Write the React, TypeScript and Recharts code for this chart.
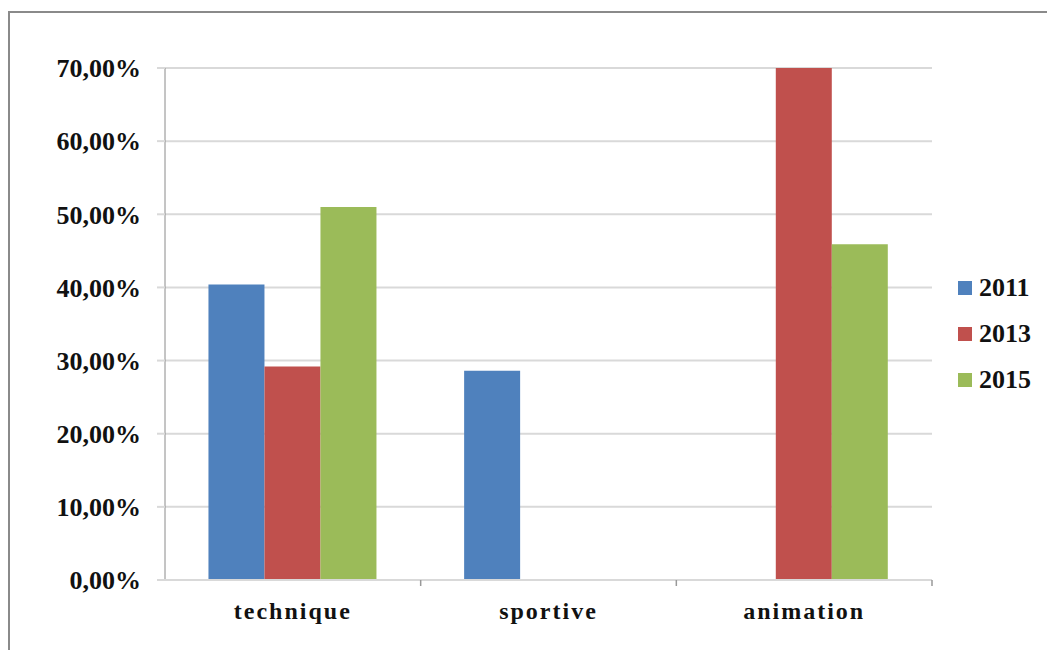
import React from 'react'
import {
  BarChart,
  Bar,
  XAxis,
  YAxis,
  CartesianGrid,
} from 'recharts'

const categories = ['technique', 'sportive', 'animation']
const values2011 = [40.4, 28.6, 0]
const values2013 = [29.2, 0, 70.0]
const values2015 = [51.0, 0, 45.9]
const yTicks = [0, 10, 20, 30, 40, 50, 60, 70]

const series = [
  { key: 'y2011', name: '2011', color: '#4f81bd' },
  { key: 'y2013', name: '2013', color: '#c0504d' },
  { key: 'y2015', name: '2015', color: '#9bbb59' },
]

const data = categories.map((name, i) => ({
  name,
  y2011: values2011[i],
  y2013: values2013[i],
  y2015: values2015[i],
}))

const font = '"Liberation Serif", "Times New Roman", serif'

const formatPct = (v: number) => v.toFixed(2).replace('.', ',') + '%'

// category label in the middle, small tick mark at the right edge of the band
const CategoryTick = (props: any) => {
  const { x, y, payload } = props
  const half = payload && payload.offset ? payload.offset : 767 / 6
  return (
    <g>
      <line x1={x + half} y1={y - 8} x2={x + half} y2={y - 2} stroke="#999" strokeWidth={1.5} />
      <text
        x={x}
        y={y + 31}
        textAnchor="middle"
        fontFamily={font}
        fontWeight="bold"
        fontSize={24}
        letterSpacing={2}
        fill="#111"
      >
        {payload.value}
      </text>
    </g>
  )
}

const LegendBox = () => (
  <div
    style={{
      position: 'absolute',
      left: 958,
      top: 265,
      fontFamily: font,
      fontWeight: 'bold',
      fontSize: 26,
      color: '#111',
    }}
  >
    {series.map((s) => (
      <div key={s.key} style={{ display: 'flex', alignItems: 'center', height: 46 }}>
        <span
          style={{
            display: 'inline-block',
            width: 14,
            height: 14,
            background: s.color,
            marginRight: 7,
          }}
        />
        {s.name}
      </div>
    ))}
  </div>
)

export default function App() {
  return (
    <div
      style={{
        position: 'absolute',
        left: 0,
        top: 0,
        width: 1047,
        height: 650,
        background: '#fff',
        overflow: 'hidden',
      }}
    >
      <div
        style={{
          position: 'absolute',
          left: 8,
          top: 11,
          width: 1100,
          height: 700,
          borderLeft: '2px solid #8a8a8a',
          borderTop: '2px solid #8a8a8a',
        }}
      />
      <div style={{ position: 'absolute', left: 0, top: 0 }}>
        <BarChart
          width={1047}
          height={650}
          data={data}
          margin={{ top: 68, right: 115, left: 0, bottom: 0 }}
          barCategoryGap="17%"
          barGap={0}
        >
          <CartesianGrid vertical={false} stroke="#d9d9d9" strokeWidth={2} />
          <YAxis
            width={165}
            domain={[0, 70]}
            ticks={yTicks}
            tickFormatter={formatPct}
            axisLine={{ stroke: '#8a8a8a', strokeWidth: 1 }}
            tickLine={{ stroke: '#d9d9d9', strokeWidth: 2 }}
            tickSize={8}
            tickMargin={16}
            tick={{ fontFamily: font, fontWeight: 'bold', fontSize: 26, fill: '#111' }}
          />
          <XAxis
            dataKey="name"
            height={70}
            axisLine={{ stroke: '#d9d9d9', strokeWidth: 2 }}
            tickLine={false}
            tick={<CategoryTick />}
            interval={0}
          />
          {series.map((s) => (
            <Bar key={s.key} dataKey={s.key} name={s.name} fill={s.color} isAnimationActive={false} />
          ))}
        </BarChart>
      </div>
      <LegendBox />
    </div>
  )
}
